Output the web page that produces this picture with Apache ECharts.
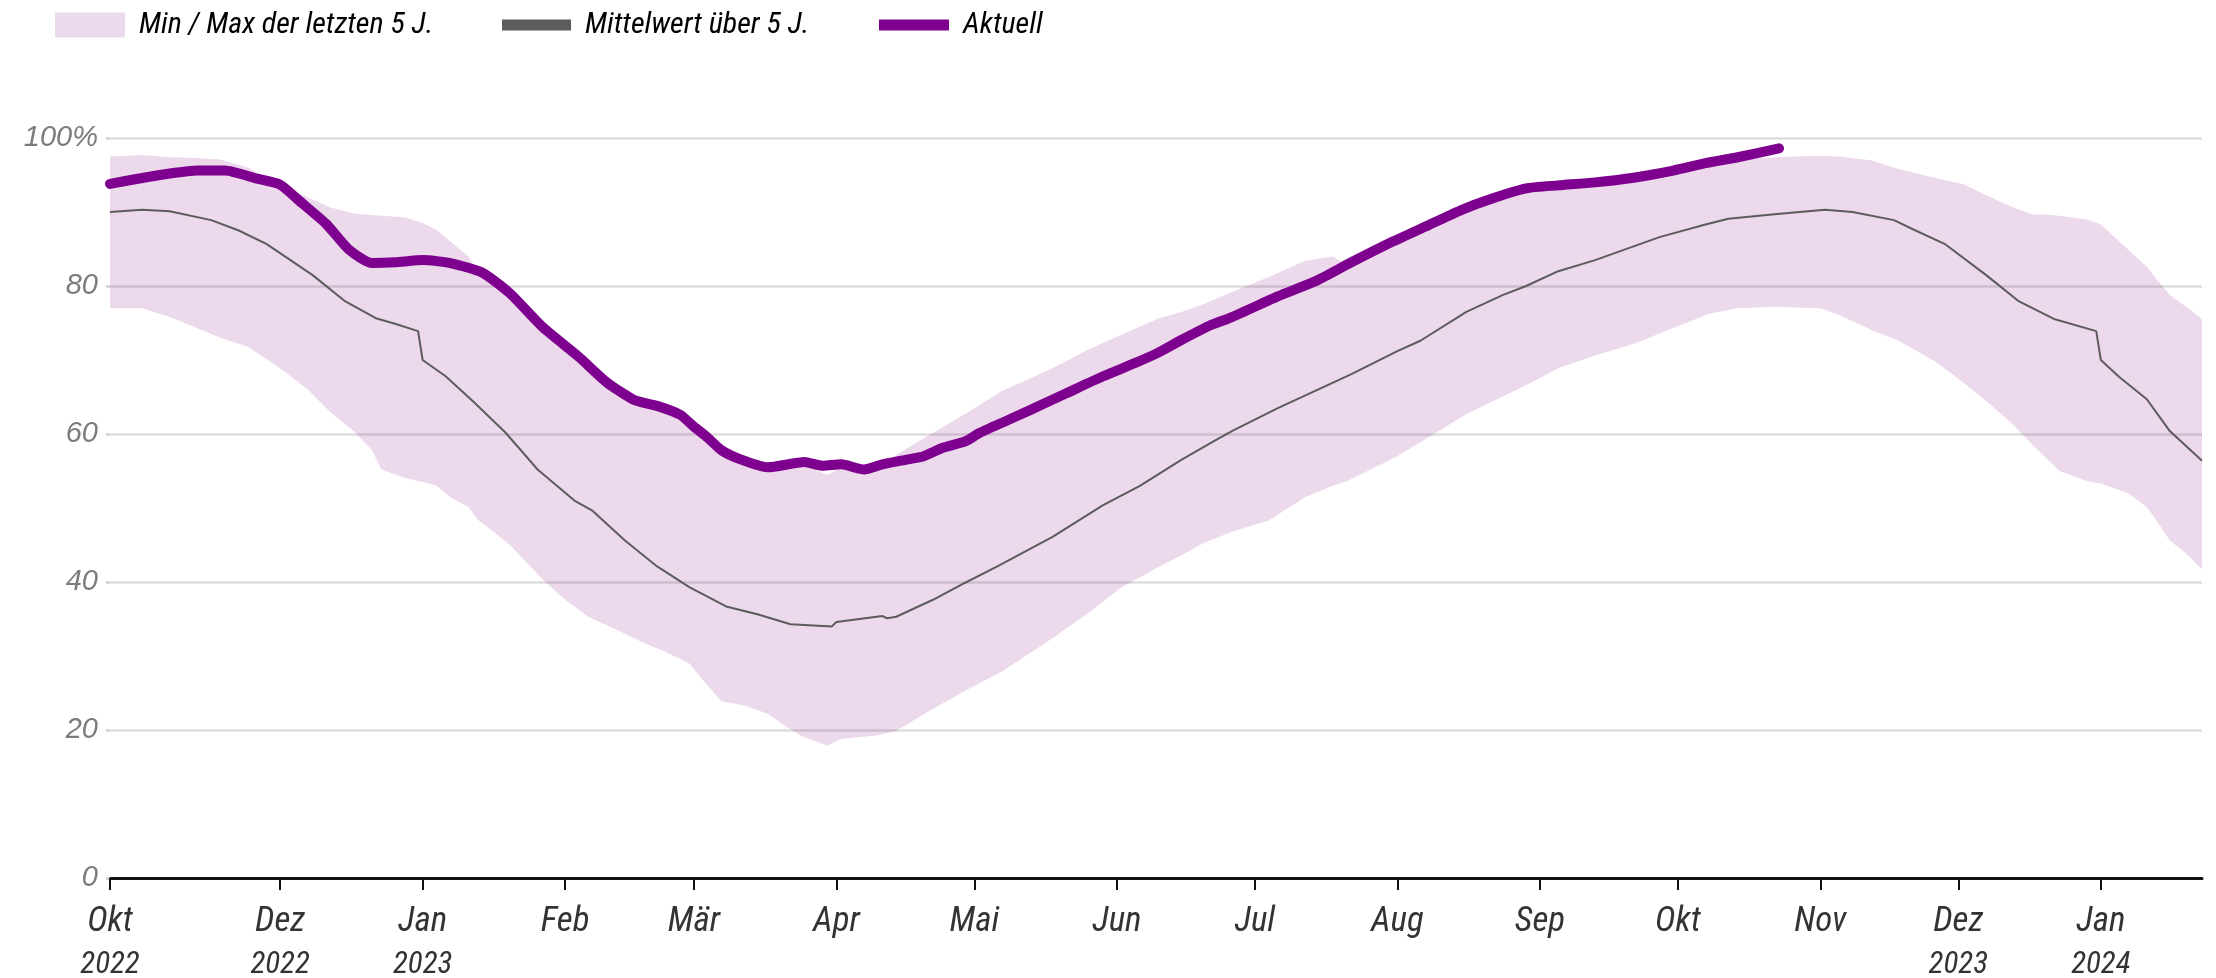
<!DOCTYPE html>
<html>
<head>
<meta charset="utf-8">
<script src="https://cdn.jsdelivr.net/npm/echarts@6.0.0/dist/echarts.min.js"></script>
<style>
  html, body { margin: 0; padding: 0; background: #fff; }
  #chart { width: 2216px; height: 978px; }
</style>
</head>
<body>
<div id="chart"></div>
<script>
// Achsenbereich
var axisStart = '2022-10-25';
var axisEnd = '2024-01-23';

// Monatsmarken an der x-Achse
var tickDates = ['2022-10-25','2022-12-01','2023-01-01','2023-02-01','2023-03-01','2023-04-01','2023-05-01','2023-06-01','2023-07-01','2023-08-01','2023-09-01','2023-10-01','2023-11-01','2023-12-01','2024-01-01'];
var tickMonths = ['Okt','Dez','Jan','Feb','Mär','Apr','Mai','Jun','Jul','Aug','Sep','Okt','Nov','Dez','Jan'];
var tickYears = ['2022','2022','2023','','','','','','','','','','','2023','2024'];

// Min / Max der letzten 5 Jahre
var bandDates = ['2022-10-25','2022-11-01','2022-11-07','2022-11-13','2022-11-18','2022-11-24','2022-12-01','2022-12-07','2022-12-12','2022-12-17','2022-12-21','2022-12-23','2022-12-28','2023-01-01','2023-01-04','2023-01-07','2023-01-11','2023-01-13','2023-01-16','2023-01-20','2023-01-27','2023-02-01','2023-02-06','2023-02-13','2023-02-18','2023-02-23','2023-02-28','2023-03-03','2023-03-07','2023-03-12','2023-03-17','2023-03-21','2023-03-25','2023-03-30','2023-04-02','2023-04-07','2023-04-10','2023-04-14','2023-04-21','2023-04-29','2023-05-07','2023-05-18','2023-05-26','2023-06-02','2023-06-10','2023-06-15','2023-06-20','2023-06-26','2023-07-04','2023-07-12','2023-07-18','2023-07-21','2023-08-01','2023-08-10','2023-08-16','2023-08-22','2023-08-29','2023-09-05','2023-09-13','2023-09-22','2023-09-29','2023-10-08','2023-10-14','2023-10-22','2023-11-01','2023-11-05','2023-11-12','2023-11-18','2023-11-26','2023-12-02','2023-12-07','2023-12-13','2023-12-17','2023-12-21','2023-12-23','2023-12-29','2024-01-01','2024-01-07','2024-01-11','2024-01-13','2024-01-16','2024-01-20','2024-01-23'];
var bandMax = [97.5,97.7,97.4,97.3,97.1,96.0,93.7,92.0,90.6,89.8,89.6,89.5,89.3,88.5,87.6,86.0,84.0,81.8,80.6,78.7,74.2,71.6,69.0,65.5,64.0,63.1,61.2,59.7,57.5,56.0,55.2,55.5,55.8,54.5,55.4,54.8,55.5,57.2,59.8,62.7,65.8,68.9,71.5,73.4,75.6,76.5,77.6,79.2,81.2,83.4,84.0,82.8,86.0,88.6,90.2,91.6,92.9,93.3,93.7,94.3,95.2,96.4,97.0,97.4,97.6,97.5,97.0,95.8,94.6,93.8,92.3,90.6,89.7,89.6,89.5,89.0,88.3,84.9,82.6,81.0,78.8,77.0,75.5];
var bandMin = [77.0,77.0,75.8,74.3,73.0,71.8,68.9,66.0,62.9,60.4,57.8,55.2,54.1,53.5,53.0,51.5,50.1,48.4,47.0,45.0,40.4,37.6,35.3,33.3,31.8,30.5,29.0,26.7,23.9,23.3,22.2,20.5,19.0,17.9,18.8,19.1,19.3,19.9,22.5,25.3,27.9,32.4,35.9,39.3,42.0,43.6,45.3,46.8,48.3,51.5,53.0,53.6,57.0,60.4,62.7,64.5,66.6,68.9,70.6,72.3,74.1,76.3,77.0,77.2,77.0,76.1,74.1,72.6,69.8,67.0,64.5,61.2,58.6,56.2,55.0,53.6,53.3,52.0,50.1,48.4,45.6,43.6,41.7];

// Mittelwert über 5 Jahre
var meanDates = ['2022-10-25','2022-11-01','2022-11-07','2022-11-16','2022-11-22','2022-11-28','2022-12-08','2022-12-15','2022-12-22','2022-12-26','2022-12-31','2023-01-01','2023-01-06','2023-01-12','2023-01-19','2023-01-26','2023-02-03','2023-02-07','2023-02-14','2023-02-21','2023-02-28','2023-03-08','2023-03-15','2023-03-22','2023-03-31','2023-04-01','2023-04-11','2023-04-12','2023-04-14','2023-04-22','2023-04-29','2023-05-06','2023-05-18','2023-05-29','2023-06-06','2023-06-15','2023-06-22','2023-06-26','2023-07-06','2023-07-14','2023-07-22','2023-08-01','2023-08-06','2023-08-16','2023-08-24','2023-08-29','2023-09-05','2023-09-13','2023-09-27','2023-10-07','2023-10-12','2023-10-22','2023-11-02','2023-11-08','2023-11-17','2023-11-21','2023-11-28','2023-12-07','2023-12-14','2023-12-22','2023-12-31','2024-01-01','2024-01-05','2024-01-11','2024-01-16','2024-01-23'];
var meanValues = [90.0,90.3,90.1,88.9,87.5,85.7,81.5,78.0,75.6,74.9,73.9,70.0,67.8,64.4,60.2,55.2,51.0,49.6,45.6,42.1,39.3,36.7,35.6,34.3,34.0,34.6,35.4,35.1,35.3,37.6,39.9,42.1,46.1,50.4,53.0,56.5,59.0,60.4,63.5,65.8,68.1,71.2,72.6,76.5,78.8,80.0,82.0,83.5,86.6,88.3,89.1,89.7,90.3,90.0,88.9,87.7,85.7,81.5,78.0,75.5,73.9,70.0,67.7,64.7,60.4,56.4];

// Aktueller Füllstand
var currentDates = ['2022-10-25','2022-11-01','2022-11-07','2022-11-13','2022-11-19','2022-11-26','2022-12-01','2022-12-05','2022-12-11','2022-12-16','2022-12-21','2022-12-26','2023-01-01','2023-01-07','2023-01-14','2023-01-20','2023-01-27','2023-02-04','2023-02-10','2023-02-16','2023-02-21','2023-02-26','2023-03-01','2023-03-04','2023-03-07','2023-03-11','2023-03-17','2023-03-25','2023-03-29','2023-04-02','2023-04-07','2023-04-11','2023-04-16','2023-04-20','2023-04-24','2023-04-29','2023-05-02','2023-05-08','2023-05-13','2023-05-21','2023-05-29','2023-06-05','2023-06-10','2023-06-15','2023-06-21','2023-06-26','2023-07-06','2023-07-14','2023-07-22','2023-07-31','2023-08-07','2023-08-15','2023-08-21','2023-08-29','2023-09-05','2023-09-13','2023-09-21','2023-09-30','2023-10-07','2023-10-14','2023-10-23'];
var currentValues = [93.8,94.6,95.2,95.6,95.6,94.5,93.7,91.6,88.4,84.9,83.1,83.2,83.5,83.1,81.8,79.0,74.5,70.4,67.0,64.6,63.8,62.6,61.0,59.5,57.8,56.6,55.5,56.2,55.7,55.9,55.2,55.9,56.5,57.0,58.1,59.0,60.1,61.8,63.2,65.5,67.8,69.6,71.0,72.7,74.6,75.8,78.6,80.6,83.2,86.0,88.0,90.3,91.7,93.2,93.6,94.0,94.6,95.6,96.6,97.4,98.6];

var bandColor = 'rgba(128,0,128,0.15)';
var meanColor = '#5c5c5c';
var currentColor = '#7e008e';

// schmale Kursivschrift suchen (Legende und Monatsnamen)
var probe = document.createElement('canvas').getContext('2d');
function textW(font, s) {
	probe.font = '10px monospace';
	probe.font = font;
	return probe.measureText(s).width;
}
function pickNarrow() {
	var s = 'Min / Max der letzten 5 J.';
	var mono = textW('italic 31px monospace', s);
	if (Math.abs(textW('italic 31px "Liberation Sans Narrow", monospace', s) - mono) > 1) {
		return { family: '"Liberation Sans Narrow"', stretch: 'normal' };
	}
	var fams = ['Roboto', 'Open Sans', 'Noto Sans', 'DejaVu Sans'];
	for (var i = 0; i < fams.length; i++) {
		var n = textW('italic 31px "' + fams[i] + '"', s);
		var c = textW('italic semi-condensed 31px "' + fams[i] + '"', s);
		if (c < n * 0.95 && c > n * 0.6) return { family: '"' + fams[i] + '"', stretch: 'semi-condensed' };
	}
	return { family: '"Liberation Sans"', stretch: 'normal' };
}
var narrow = pickNarrow();
// Schriftgröße so, dass der erste Legendentext ca. 297 px breit ist
var legendSize = 31 * 297 / textW('italic ' + (narrow.stretch === 'normal' ? '' : narrow.stretch + ' ') + '31px ' + narrow.family, 'Min / Max der letzten 5 J.');
legendSize = Math.max(26, Math.min(34, legendSize));
var sizeScale = legendSize / 31;

// Tage seit Achsenbeginn
function day(s) {
	var p = s.split('-'), q = axisStart.split('-');
	return Math.round((Date.UTC(+p[0], +p[1] - 1, +p[2]) - Date.UTC(+q[0], +q[1] - 1, +q[2])) / 86400000);
}
function pairs(dates, vals) {
	return dates.map(function (d, i) { return [day(d), vals[i]]; });
}

var tickDays = tickDates.map(day);
var bandRows = bandDates.map(function (d, i) { return [day(d), bandMin[i], bandMax[i]]; });

function legendBox(name, left, w, h) {
	return {
		data: [{ name: name, icon: 'rect' }],
		left: left,
		top: 5,
		itemWidth: w,
		itemHeight: h,
		itemStyle: { borderWidth: 0 },
		selectedMode: false,
		textStyle: {
			fontFamily: narrow.family,
			fontStyle: 'italic',
			fontWeight: narrow.stretch,
			fontSize: Math.round(legendSize),
			color: '#000',
			padding: [0, 0, 0, 9]
		}
	};
}

var myChart = echarts.init(document.getElementById('chart'));
var option = {
	animation: false,
	backgroundColor: '#fff',
	legend: [
		legendBox('Min / Max der letzten 5 J.', 50, 70, 25),
		legendBox('Mittelwert über 5 J.', 497, 69, 11),
		legendBox('Aktuell', 874, 70, 11)
	],
	grid: {
		left: 110,
		right: 14,
		top: 138,
		bottom: 100,
		containLabel: false,
		outerBoundsMode: 'none'
	},
	xAxis: {
		type: 'value',
		min: 0,
		max: day(axisEnd),
		splitLine: { show: false },
		axisLine: { lineStyle: { color: '#111', width: 3 } },
		axisTick: {
			customValues: tickDays,
			length: 12,
			lineStyle: { color: '#111', width: 2 }
		},
		axisLabel: {
			customValues: tickDays,
			margin: 24,
			formatter: function (v) {
				var i = tickDays.indexOf(v);
				if (i < 0) return '';
				return '{m|' + tickMonths[i] + '}' + (tickYears[i] ? '\n{y|' + tickYears[i] + '}' : '');
			},
			rich: {
				m: { fontFamily: narrow.family, fontStyle: 'italic', fontWeight: narrow.stretch, fontSize: Math.round(36 * sizeScale), lineHeight: 40, color: '#333' },
				y: { fontFamily: narrow.family, fontStyle: 'italic', fontWeight: narrow.stretch, fontSize: Math.round(32 * sizeScale), lineHeight: 46, color: '#333' }
			}
		}
	},
	yAxis: {
		type: 'value',
		min: 0,
		max: 100,
		interval: 20,
		axisLine: { show: false },
		axisTick: { show: true, length: 4, lineStyle: { color: '#cfcfcf', width: 2.5 } },
		splitLine: { lineStyle: { color: '#dedede', width: 2.5 } },
		axisLabel: {
			margin: 12,
			fontFamily: '"Liberation Sans", Arial, sans-serif',
			fontStyle: 'italic',
			fontSize: 29,
			color: '#7c7c7c',
			formatter: function (v) { return v === 100 ? '100%' : String(v); }
		}
	},
	series: [
		{
			name: 'Min / Max der letzten 5 J.',
			type: 'custom',
			data: bandRows,
			encode: { x: 0, y: [1, 2] },
			silent: true,
			itemStyle: { color: bandColor },
			renderItem: function (params, api) {
				// das ganze Band als eine Fläche beim ersten Datenpunkt
				if (params.dataIndex !== 0) return;
				var upper = [], lower = [];
				for (var i = 0; i < bandRows.length; i++) {
					upper.push(api.coord([bandRows[i][0], bandRows[i][2]]));
					lower.unshift(api.coord([bandRows[i][0], bandRows[i][1]]));
				}
				return {
					type: 'polygon',
					shape: { points: upper.concat(lower) },
					style: { fill: bandColor }
				};
			}
		},
		{
			name: 'Mittelwert über 5 J.',
			type: 'line',
			data: pairs(meanDates, meanValues),
			symbol: 'none',
			color: meanColor,
			itemStyle: { color: meanColor },
			lineStyle: { color: meanColor, width: 2 }
		},
		{
			name: 'Aktuell',
			type: 'line',
			data: pairs(currentDates, currentValues),
			symbol: 'none',
			smooth: 0.2,
			color: currentColor,
			itemStyle: { color: currentColor },
			lineStyle: { color: currentColor, width: 10, cap: 'round', join: 'round' }
		}
	]
};
myChart.setOption(option);
</script>
</body>
</html>
